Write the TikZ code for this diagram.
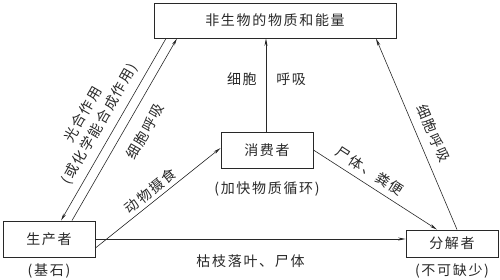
\documentclass[tikz,border=0pt]{standalone}
\usepackage{fontspec}
\setmainfont{Noto Sans CJK SC}[LetterSpace=12]
\usetikzlibrary{arrows.meta, positioning}
\definecolor{inkgray}{RGB}{40,40,40}
\tikzset{
  %% ---- boxes ----
  box/.style    = {rectangle, draw=inkgray, line width=0.9pt,
                   minimum width=92pt, minimum height=#1, inner sep=0pt,
                   text=inkgray},
  box/.default  = 36pt,
  lbl/.style    = {inner sep=0pt, text=inkgray},
  %% ---- arrows ----
  arrow/.style  = {-{Stealth[length=7.5pt, width=3pt]}, line width=0.6pt,
                   color=inkgray},
}
\begin{document}
\begin{tikzpicture}[x=1pt, y=-1pt, font=\fontsize{14}{19}\selectfont]
  \useasboundingbox (0,0) rectangle (500,280);

  %% boxes
  \node[box=35pt, minimum width=242pt] (abio) at (275,20.5) {非生物的物质和能量};
  \node[box] (prod) at (49,239) {生产者};
  \node[box] (cons) at (267,150) {消费者};
  \node[box=27pt] (deco) at (452,243.5) {分解者};

  %% notes below the boxes
  \node[lbl, below=6pt of prod.south] (prodnote) {(基石)};
  \node[lbl, below=13pt of cons.south] (consnote) {(加快物质循环)};
  \node[lbl, below=6pt of deco.south] (deconote) {(不可缺少)};

  %% abiotic <-> producer
  \draw[arrow] ([xshift=-109pt]abio.south) --
    node[lbl, sloped, pos=0.51, above=7pt, align=center]
    {光合作用\\(或化学能合成作用)}
    ([xshift=12pt]prod.north);
  \draw[arrow] ([xshift=23pt]prod.north) --
    node[lbl, sloped, pos=0.54, below=12pt] {细胞呼吸}
    ([xshift=-98pt]abio.south);

  %% consumer / decomposer -> abiotic
  \draw[arrow] ([xshift=-1pt]cons.north) --
    node[lbl, pos=0.56, left=9pt] {细胞}
    node[lbl, pos=0.56, right=10pt] {呼吸}
    ([xshift=-1pt]cons.north |- abio.south);
  \draw[arrow] ([xshift=5pt]deco.north) --
    node[lbl, sloped, pos=0.47, above=9pt] {细胞呼吸}
    ([xshift=101pt]abio.south);

  %% food chain and litter
  \draw[arrow] ([yshift=-9pt]prod.east) --
    node[lbl, sloped, pos=0.49, above=3.5pt] {动物摄食}
    ([yshift=2pt]cons.west);
  \draw[arrow] (cons.east) --
    node[lbl, sloped, pos=0.4, above=6pt] {尸体、粪便}
    ([xshift=-15pt]deco.north);
  \draw[arrow] (prod.east) --
    node[lbl, below=15pt] {枯枝落叶、尸体}
    (deco.west |- prod.east);

\end{tikzpicture}
\end{document}
